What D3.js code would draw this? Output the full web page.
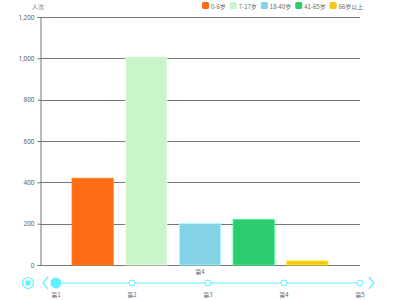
<!DOCTYPE html>
<html>
<head>
<meta charset="utf-8">
<script src="https://cdn.jsdelivr.net/npm/d3@7"></script>
<style>
  body { margin: 0; background: #fff; }
  text { font-family: "Noto Sans CJK SC", "Noto Sans", sans-serif; }
</style>
</head>
<body>
<div id="chart"></div>
<script>
// age groups and their values (人次)
const groups = ["0-6岁", "7-17岁", "18-40岁", "41-65岁", "66岁以上"];
const values = [420, 1008, 200, 220, 20];
const colors = ["#fd6b12", "#c8f5ca", "#84d2e8", "#2ecc71", "#f5c71a"];
const category = ["第4"];
const steps = ["第1", "第2", "第3", "第4", "第5"];
const yTicks = [0, 200, 400, 600, 800, 1000, 1200];

const width = 400, height = 300;
const margin = { top: 17, right: 40, bottom: 35, left: 40 };

const svg = d3.select("#chart").append("svg")
    .attr("width", width)
    .attr("height", height);

const y = d3.scaleLinear()
    .domain([0, 1200])
    .range([height - margin.bottom, margin.top]);

const x0 = d3.scaleBand()
    .domain(category)
    .range([margin.left, width - margin.right])
    .paddingInner(0.2)
    .paddingOuter(0.1);

// bars inside the category: 30% bar gap (echarts style)
const x1 = d3.scaleBand()
    .domain(groups)
    .range([0, x0.bandwidth()])
    .paddingInner(0.3 / 1.3)
    .paddingOuter(0);

// gridlines
svg.append("g")
    .selectAll("line")
    .data(yTicks)
    .enter().append("line")
    .attr("x1", margin.left)
    .attr("x2", width - margin.right)
    .attr("y1", d => Math.round(y(d)) + 0.5)
    .attr("y2", d => Math.round(y(d)) + 0.5)
    .attr("stroke", "#777")
    .attr("stroke-width", 1);

// y axis
const yAxis = svg.append("g")
    .attr("transform", `translate(${margin.left + 0.5},0)`)
    .call(d3.axisLeft(y).tickValues(yTicks).tickSize(3).tickFormat(d3.format(",")));
yAxis.select(".domain").attr("stroke", "#777");
yAxis.selectAll(".tick line").attr("stroke", "#777");
yAxis.selectAll("text").attr("fill", "#666").style("font-size", "6.5px")
    .style("font-family", "Roboto, sans-serif");

svg.append("text")
    .attr("x", 38)
    .attr("y", 9)
    .attr("text-anchor", "middle")
    .attr("fill", "#777")
    .style("font-size", "6px")
    .text("人次");

// bars
const gCat = svg.append("g")
    .attr("transform", `translate(${x0(category[0])},0)`);
gCat.selectAll("rect")
    .data(values)
    .enter().append("rect")
    .attr("x", (d, i) => x1(groups[i]))
    .attr("width", x1.bandwidth())
    .attr("y", d => y(d))
    .attr("height", d => y(0) - y(d))
    .attr("fill", (d, i) => colors[i])
    .attr("stroke", (d, i) => d3.color(colors[i]).brighter(0.6))
    .attr("stroke-width", 0.8);

// x axis label
svg.append("text")
    .attr("x", x0(category[0]) + x0.bandwidth() / 2)
    .attr("y", 274)
    .attr("text-anchor", "middle")
    .attr("fill", "#666")
    .style("font-size", "6px")
    .text(category[0]);

// legend
let lx = 202;
groups.forEach((g, i) => {
    const item = svg.append("g").attr("transform", `translate(${lx},2)`);
    item.append("rect")
        .attr("width", 7).attr("height", 7).attr("rx", 1.5)
        .attr("fill", colors[i]);
    const t = item.append("text")
        .attr("x", 9).attr("y", 6.5)
        .attr("fill", "#666")
        .style("font-size", "6px")
        .text(g);
    lx += 9 + t.node().getComputedTextLength() + 4;
});

// timeline
const ty = 283;
const tx = d3.scalePoint()
    .domain(steps)
    .range([56, 360]);
const cyan = "#5cf3ff";
const tl = svg.append("g");
tl.append("line")
    .attr("x1", tx.range()[0]).attr("x2", tx.range()[1])
    .attr("y1", ty).attr("y2", ty)
    .attr("stroke", "#aef9ff").attr("stroke-width", 2);
tl.selectAll("circle.step")
    .data(steps)
    .enter().append("circle")
    .attr("class", "step")
    .attr("cx", d => tx(d))
    .attr("cy", ty)
    .attr("r", (d, i) => i === 0 ? 5 : 3)
    .attr("fill", (d, i) => i === 0 ? cyan : "#fff")
    .attr("stroke", cyan)
    .attr("stroke-width", 1);
tl.selectAll("text")
    .data(steps)
    .enter().append("text")
    .attr("x", d => tx(d))
    .attr("y", 297)
    .attr("text-anchor", "middle")
    .attr("fill", "#666")
    .style("font-size", "6px")
    .text(d => d);

// play button
tl.append("circle")
    .attr("cx", 28).attr("cy", ty).attr("r", 5.5)
    .attr("fill", "none").attr("stroke", cyan).attr("stroke-width", 1.2);
tl.append("rect")
    .attr("x", 25.5).attr("y", ty - 2.5).attr("width", 5).attr("height", 5)
    .attr("fill", cyan);
// prev / next arrows
tl.append("path")
    .attr("d", `M48,${ty - 6}L43,${ty}L48,${ty + 6}`)
    .attr("fill", "none").attr("stroke", cyan).attr("stroke-width", 1.2);
tl.append("path")
    .attr("d", `M369,${ty - 6}L374,${ty}L369,${ty + 6}`)
    .attr("fill", "none").attr("stroke", cyan).attr("stroke-width", 1.2);
</script>
</body>
</html>
